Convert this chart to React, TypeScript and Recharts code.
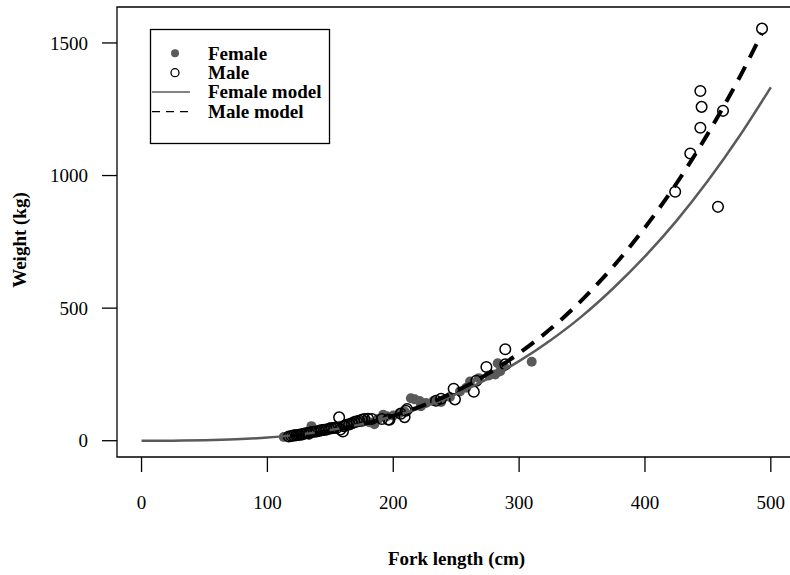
import { ScatterChart, Scatter, XAxis, YAxis, ReferenceArea } from "recharts";

// ── observed fish (fork length cm, weight kg) ────────────────────────────────
const femaleFish = [
  { length: 113, weight: 14 }, { length: 118, weight: 18 }, { length: 122, weight: 16 },
  { length: 125, weight: 24 }, { length: 128, weight: 20 }, { length: 130, weight: 27 },
  { length: 133, weight: 22 }, { length: 135, weight: 55 }, { length: 137, weight: 31 },
  { length: 140, weight: 35 }, { length: 142, weight: 40 }, { length: 145, weight: 38 },
  { length: 148, weight: 45 }, { length: 150, weight: 52 }, { length: 152, weight: 44 },
  { length: 155, weight: 50 }, { length: 158, weight: 56 }, { length: 160, weight: 52 },
  { length: 163, weight: 60 }, { length: 165, weight: 57 }, { length: 168, weight: 63 },
  { length: 170, weight: 67 }, { length: 172, weight: 73 }, { length: 175, weight: 70 },
  { length: 178, weight: 76 }, { length: 181, weight: 70 }, { length: 185, weight: 62 },
  { length: 188, weight: 82 }, { length: 192, weight: 98 }, { length: 195, weight: 92 },
  { length: 200, weight: 95 }, { length: 205, weight: 104 }, { length: 209, weight: 110 },
  { length: 214, weight: 160 }, { length: 217, weight: 156 }, { length: 221, weight: 150 },
  { length: 222, weight: 130 }, { length: 226, weight: 142 }, { length: 232, weight: 150 },
  { length: 238, weight: 146 }, { length: 245, weight: 165 }, { length: 253, weight: 186 },
  { length: 258, weight: 200 }, { length: 261, weight: 223 }, { length: 268, weight: 236 },
  { length: 276, weight: 246 }, { length: 281, weight: 250 }, { length: 283, weight: 292 },
  { length: 285, weight: 262 }, { length: 288, weight: 280 }, { length: 310, weight: 298 },
];

const maleFish = [
  { length: 117, weight: 16 }, { length: 119, weight: 18 }, { length: 121, weight: 20 },
  { length: 123, weight: 21 }, { length: 125, weight: 22 }, { length: 127, weight: 24 },
  { length: 129, weight: 26 }, { length: 131, weight: 29 }, { length: 133, weight: 28 },
  { length: 135, weight: 33 }, { length: 137, weight: 34 }, { length: 139, weight: 35 },
  { length: 141, weight: 37 }, { length: 143, weight: 40 }, { length: 145, weight: 41 },
  { length: 147, weight: 42 }, { length: 149, weight: 45 }, { length: 151, weight: 47 },
  { length: 153, weight: 49 }, { length: 155, weight: 48 }, { length: 157, weight: 88 },
  { length: 158, weight: 42 }, { length: 160, weight: 35 }, { length: 161, weight: 55 },
  { length: 163, weight: 60 }, { length: 165, weight: 62 }, { length: 167, weight: 66 },
  { length: 169, weight: 70 }, { length: 171, weight: 73 }, { length: 173, weight: 75 },
  { length: 175, weight: 79 }, { length: 177, weight: 82 }, { length: 180, weight: 83 },
  { length: 183, weight: 82 }, { length: 191, weight: 82 }, { length: 196, weight: 80 },
  { length: 197, weight: 79 }, { length: 206, weight: 102 }, { length: 209, weight: 89 },
  { length: 210, weight: 113 }, { length: 211, weight: 119 }, { length: 234, weight: 151 },
  { length: 238, weight: 158 }, { length: 248, weight: 196 }, { length: 249, weight: 156 },
  { length: 264, weight: 185 }, { length: 266, weight: 226 }, { length: 274, weight: 278 },
  { length: 289, weight: 288 }, { length: 289, weight: 345 }, { length: 424, weight: 939 },
  { length: 436, weight: 1083 }, { length: 444, weight: 1180 }, { length: 444, weight: 1319 },
  { length: 445, weight: 1259 }, { length: 458, weight: 882 }, { length: 462, weight: 1244 },
  { length: 493, weight: 1554 },
];

// ── fitted curves ────────────────────────────────────────────────────────────
const femaleModel = [
  { length: 0, weight: 0 }, { length: 25, weight: 0.2 }, { length: 50, weight: 1.6 },
  { length: 75, weight: 5.2 }, { length: 100, weight: 12 }, { length: 125, weight: 23 },
  { length: 150, weight: 40 }, { length: 175, weight: 62 }, { length: 200, weight: 92 },
  { length: 225, weight: 129 }, { length: 250, weight: 176 }, { length: 275, weight: 233 },
  { length: 300, weight: 300 }, { length: 325, weight: 379 }, { length: 350, weight: 470 },
  { length: 375, weight: 576 }, { length: 400, weight: 695 }, { length: 425, weight: 829 },
  { length: 450, weight: 980 }, { length: 475, weight: 1148 }, { length: 500, weight: 1333 },
];

const maleModel = [
  { length: 118, weight: 18 }, { length: 125, weight: 22 }, { length: 150, weight: 38 },
  { length: 175, weight: 62 }, { length: 200, weight: 94 }, { length: 225, weight: 135 },
  { length: 250, weight: 187 }, { length: 275, weight: 252 }, { length: 300, weight: 330 },
  { length: 325, weight: 422 }, { length: 350, weight: 531 }, { length: 375, weight: 658 },
  { length: 400, weight: 804 }, { length: 425, weight: 970 }, { length: 450, weight: 1158 },
  { length: 475, weight: 1369 }, { length: 493, weight: 1537 },
];

const xTicks = [0, 100, 200, 300, 400, 500];
const yTicks = [0, 500, 1000, 1500];
const xDomain: [number, number] = [-19.5, 520];
const yDomain: [number, number] = [-61.4, 1635.6];

const FONT = "'Liberation Serif', 'Times New Roman', serif";
const GREY = "#5a5a5a";

const FemaleDot = (p: any) => <circle cx={p.cx} cy={p.cy} r={5} fill={GREY} />;
const MaleDot = (p: any) => (
  <circle cx={p.cx} cy={p.cy} r={5.3} fill="none" stroke="#000" strokeWidth={1.5} />
);
const NoDot = () => <g />;

const tickStyle = { fill: "#000", fontSize: 19, fontFamily: FONT };

export default function App() {
  return (
    <div
      style={{
        position: "fixed", left: 0, top: 0, width: 790, height: 575,
        overflow: "hidden", background: "#fff",
      }}
    >
      <ScatterChart width={800} height={575} margin={{ top: 7, right: 4, bottom: 58, left: 0 }}>
        <XAxis
          type="number" dataKey="length" domain={xDomain} ticks={xTicks} interval={0}
          allowDataOverflow axisLine={false} tickSize={15} tickMargin={24} height={60}
          tickLine={{ stroke: "#000", strokeWidth: 1.3 }} tick={tickStyle}
        />
        <YAxis
          type="number" dataKey="weight" domain={yDomain} ticks={yTicks} interval={0}
          allowDataOverflow axisLine={false} tickSize={15} tickMargin={14} width={117}
          tickLine={{ stroke: "#000", strokeWidth: 1.3 }} tick={tickStyle}
        />
        <ReferenceArea
          x1={xDomain[0]} x2={xDomain[1]} y1={yDomain[0]} y2={yDomain[1]}
          fill="none" stroke="#000" strokeWidth={1.3} ifOverflow="visible"
        />
        <Scatter data={femaleFish} shape={FemaleDot} isAnimationActive={false} />
        <Scatter data={maleFish} shape={MaleDot} isAnimationActive={false} />
        <Scatter
          data={femaleModel} shape={NoDot} isAnimationActive={false}
          line={{ stroke: GREY, strokeWidth: 2.5 }} lineJointType="monotoneX"
        />
        <Scatter
          data={maleModel} shape={NoDot} isAnimationActive={false}
          line={{ stroke: "#000", strokeWidth: 4, strokeDasharray: "15 10" }}
          lineJointType="monotoneX"
        />
      </ScatterChart>

      {/* axis titles + legend, R style */}
      <svg
        width={790} height={575}
        style={{ position: "absolute", left: 0, top: 0, pointerEvents: "none" }}
        fontFamily={FONT}
      >
        <text
          transform="translate(22,240) rotate(-90)" x={0} y={4} textAnchor="middle"
          fontSize={19} fontWeight="bold" fill="#000"
        >
          Weight (kg)
        </text>
        <text x={456.5} y={565} textAnchor="middle" fontSize={19} fontWeight="bold" fill="#000">
          Fork length (cm)
        </text>

        <rect x={150.5} y={29.5} width={179} height={114} fill="#fff" stroke="#000" strokeWidth={1.3} />
        <circle cx={175} cy={53.3} r={4} fill={GREY} />
        <circle cx={175} cy={72.7} r={4} fill="none" stroke="#000" strokeWidth={1.3} />
        <line x1={152} x2={190} y1={92} y2={92} stroke={GREY} strokeWidth={1.3} />
        <line x1={152} x2={190} y1={111.7} y2={111.7} stroke="#000" strokeWidth={1.3} strokeDasharray="8 6" />
        {["Female", "Male", "Female model", "Male model"].map((label, i) => (
          <text
            key={label} x={208} y={[59.6, 79, 98.3, 118][i]}
            fontSize={19} fontWeight="bold" fill="#000"
          >
            {label}
          </text>
        ))}
      </svg>
    </div>
  );
}
